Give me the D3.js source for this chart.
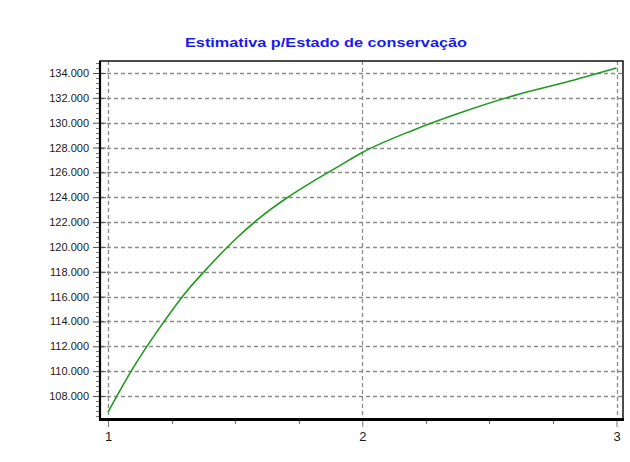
<!DOCTYPE html>
<html>
<head>
<meta charset="utf-8">
<script src="https://cdn.jsdelivr.net/npm/d3@7"></script>
<style>
  html, body { margin: 0; padding: 0; background: #fff; }
  svg { display: block; }
</style>
</head>
<body>
<svg id="chart" width="630" height="462"></svg>
<script>
// Estimated value by state of conservation
const titleText = "Estimativa p/Estado de conservação";
const stateX = [1.0, 1.1, 1.2, 1.3, 1.4, 1.5, 1.6, 1.7, 1.8, 1.9, 2.0, 2.2, 2.4, 2.6, 2.8, 3.0];
const estimateY = [106700, 110300, 113400, 116200, 118500, 120600, 122400, 123900, 125200, 126400, 127600, 129400, 130900, 132200, 133250, 134400];
const xTickValues = [1, 2, 3];
const yTickValues = [108000, 110000, 112000, 114000, 116000, 118000, 120000, 122000, 124000, 126000, 128000, 130000, 132000, 134000];

const svg = d3.select("#chart");

// plot frame
const frame = { left: 100, right: 623, top: 61, bottom: 419 };

const x = d3.scaleLinear().domain([1, 3]).range([108, 616.5]);
const y = d3.scaleLinear().domain([108000, 134000]).range([396, 73]);

const fmt = v => d3.format(",.3f")(v / 1000).replace(/,/g, "");

// title
svg.append("text")
  .attr("x", 326).attr("y", 47)
  .attr("text-anchor", "middle")
  .attr("font-family", "Liberation Sans, Arial, sans-serif")
  .attr("font-size", 13)
  .attr("font-weight", "bold")
  .attr("fill", "#1a1af0")
  .attr("textLength", 282)
  .attr("lengthAdjust", "spacingAndGlyphs")
  .text(titleText);

// white plot background
svg.append("rect")
  .attr("x", frame.left).attr("y", frame.top)
  .attr("width", frame.right - frame.left).attr("height", frame.bottom - frame.top)
  .attr("fill", "#fff");

const grid = svg.append("g")
  .attr("stroke", "#8c8c8c")
  .attr("stroke-width", 1.3)
  .attr("stroke-dasharray", "4,3");

// horizontal grid lines
grid.selectAll("line.h").data(yTickValues).join("line")
  .attr("class", "h")
  .attr("x1", frame.left).attr("x2", frame.right)
  .attr("y1", d => Math.round(y(d)) + 0.5).attr("y2", d => Math.round(y(d)) + 0.5);

// vertical grid lines
grid.selectAll("line.v").data(xTickValues).join("line")
  .attr("class", "v")
  .attr("y1", frame.top).attr("y2", frame.bottom)
  .attr("x1", d => Math.round(x(d)) + 0.5).attr("x2", d => Math.round(x(d)) + 0.5);

// y axis: major ticks crossing the frame, minor ticks outside
const yAxis = d3.axisLeft(y)
  .tickValues(yTickValues)
  .tickFormat(fmt)
  .tickSize(7)
  .tickPadding(4);
const yG = svg.append("g")
  .attr("transform", `translate(${frame.left},0)`)
  .call(yAxis);
yG.select(".domain").remove();
yG.selectAll(".tick line").attr("stroke", "#555").attr("x2", -7).attr("x1", 6);
yG.selectAll(".tick text")
  .attr("font-family", "Liberation Sans, Arial, sans-serif")
  .attr("font-size", 11)
  .attr("fill", "#1a1a1a");

const yMinor = d3.range(106400, 135000, 400).filter(v => v % 2000 !== 0);
svg.append("g").selectAll("line").data(yMinor.filter(v => y(v) > frame.top + 2 && y(v) < frame.bottom - 2)).join("line")
  .attr("x1", frame.left - 4).attr("x2", frame.left - 1)
  .attr("y1", d => Math.round(y(d)) + 0.5).attr("y2", d => Math.round(y(d)) + 0.5)
  .attr("stroke", "#777").attr("stroke-width", 1);

// x axis
const xAxis = d3.axisBottom(x)
  .tickValues(xTickValues)
  .tickFormat(d3.format("d"))
  .tickSize(8)
  .tickPadding(5);
const xG = svg.append("g")
  .attr("transform", `translate(0,${frame.bottom})`)
  .call(xAxis);
xG.select(".domain").remove();
xG.selectAll(".tick line").attr("stroke", "#777");
xG.selectAll(".tick text")
  .attr("font-family", "Liberation Sans, Arial, sans-serif")
  .attr("font-size", 13)
  .attr("fill", "#1a1a1a");

const xMinor = [1.25, 1.5, 1.75, 2.25, 2.5, 2.75];
svg.append("g").selectAll("line").data(xMinor).join("line")
  .attr("x1", d => Math.round(x(d)) + 0.5).attr("x2", d => Math.round(x(d)) + 0.5)
  .attr("y1", frame.bottom).attr("y2", frame.bottom + 5)
  .attr("stroke", "#777").attr("stroke-width", 1.2);

// estimate curve
const line = d3.line()
  .x((d, i) => x(stateX[i]))
  .y(d => y(d))
  .curve(d3.curveMonotoneX);
svg.append("path")
  .datum(estimateY)
  .attr("d", line)
  .attr("fill", "none")
  .attr("stroke", "#1f9a1f")
  .attr("stroke-width", 1.6);

// frame border: heavier on the left and bottom
svg.append("rect")
  .attr("x", frame.left).attr("y", frame.top)
  .attr("width", frame.right - frame.left).attr("height", frame.bottom - frame.top)
  .attr("fill", "none").attr("stroke", "#111").attr("stroke-width", 1.5);
svg.append("line")
  .attr("x1", frame.left).attr("x2", frame.left)
  .attr("y1", frame.top).attr("y2", frame.bottom)
  .attr("stroke", "#000").attr("stroke-width", 2.2);
svg.append("line")
  .attr("x1", frame.left - 1).attr("x2", frame.right + 1)
  .attr("y1", frame.bottom + 0.5).attr("y2", frame.bottom + 0.5)
  .attr("stroke", "#000").attr("stroke-width", 3);
</script>
</body>
</html>
